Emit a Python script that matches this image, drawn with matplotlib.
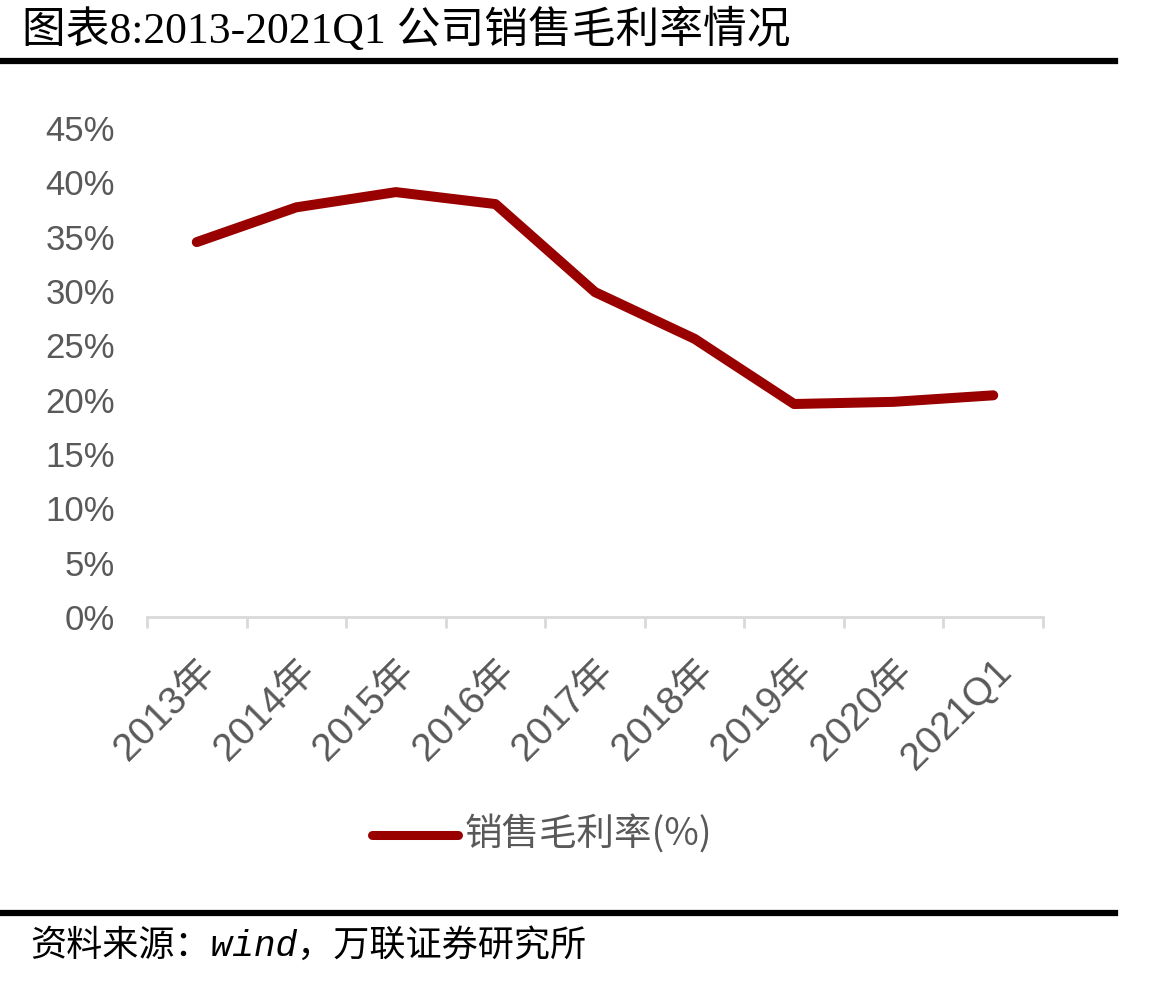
import matplotlib
matplotlib.use("Agg")
import matplotlib.pyplot as plt
from matplotlib.lines import Line2D

# 数据
categories = ["2013年", "2014年", "2015年", "2016年", "2017年", "2018年", "2019年", "2020年", "2021Q1"]
gross_margin = [34.5, 37.7, 39.1, 38.0, 29.9, 25.6, 19.6, 19.8, 20.4]
yticks = [0, 5, 10, 15, 20, 25, 30, 35, 40, 45]

title_text = "图表8:2013-2021Q1 公司销售毛利率情况"
legend_label = "销售毛利率(%)"
source_text = "资料来源：wind，万联证券研究所"

W, H = 1166, 982
fig = plt.figure(figsize=(W / 100, H / 100), dpi=100)

sans = ["Liberation Sans", "Noto Sans CJK SC"]
serif = ["Liberation Serif", "Noto Sans CJK SC"]
grey = "#595959"
red = "#990000"

# 坐标区（像素 -> 比例）
x0, x1 = 147, 1043
y0, y1 = 617, 128
ax = fig.add_axes([x0 / W, 1 - y0 / H, (x1 - x0) / W, (y0 - y1) / H])

xs = list(range(len(categories)))
ax.plot(xs, gross_margin, color=red, lw=7.2, solid_capstyle="round", solid_joinstyle="round")

ax.set_xlim(-0.5, len(categories) - 0.5)
ax.set_ylim(0, 45)
ax.set_yticks(yticks)
ax.set_yticklabels([f"{v}%" for v in yticks], family=sans, fontsize=25, color=grey)
ax.tick_params(axis="y", length=0, pad=23)

# x 轴：刻度在类别边界
ax.set_xticks([i - 0.5 for i in range(len(categories) + 1)])
ax.set_xticklabels([])
ax.set_xticks(xs, minor=True)
ax.set_xticklabels(categories, minor=True, rotation=45, ha="right", va="top",
                   rotation_mode="anchor", family=sans, fontsize=28, color=grey)
ax.tick_params(axis="x", which="minor", length=0, pad=26)
ax.tick_params(axis="x", which="major", length=8, width=2, color="#d9d9d9", direction="out")

for s in ["left", "right", "top"]:
    ax.spines[s].set_visible(False)
ax.spines["bottom"].set_color("#d9d9d9")
ax.spines["bottom"].set_linewidth(2)

# 图例（手动）
fig.add_artist(Line2D([372 / W, 458 / W], [1 - 835 / H, 1 - 835 / H], color=red, lw=6.5,
                      solid_capstyle="round"))
fig.text(465 / W, 1 - 835 / H, legend_label, family=["Noto Sans CJK SC"], fontsize=27,
         color=grey, va="center", ha="left")

# 标题与来源
fig.text(22 / W, 1 - 30 / H, title_text, family=serif, fontsize=31.5, color="black",
         va="center", ha="left")
fig.add_artist(Line2D([0, 1115 / W], [1 - 61 / H, 1 - 61 / H], color="black", lw=4.5))
fig.add_artist(Line2D([0, 1115 / W], [1 - 913 / H, 1 - 913 / H], color="black", lw=4.5))
fig.text(30 / W, 1 - 946 / H, source_text, family=["Liberation Mono", "Noto Sans CJK SC"],
         style="italic", fontsize=26, color="black", va="center", ha="left")

fig.savefig("out.png", dpi=100, facecolor="white")
